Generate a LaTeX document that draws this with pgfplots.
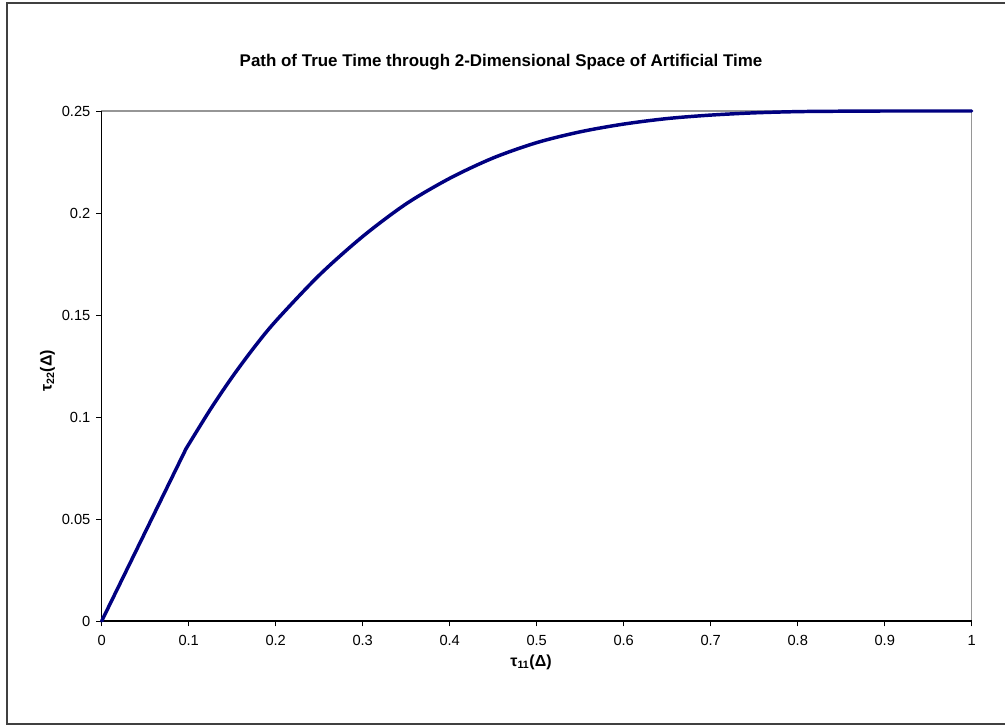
\documentclass[border=0pt]{standalone}
\usepackage{fontspec}
\setmainfont{Liberation Sans}
\usepackage{pgfplots}
\pgfplotsset{compat=1.18}
\definecolor{pathnavy}{RGB}{0,0,128}
\definecolor{framegray}{RGB}{150,150,150}

\begin{document}
\begin{tikzpicture}[x=0.75pt,y=-0.75pt]
% picture measured in pixels of the reference, y downwards
\useasboundingbox (0,0) rectangle (1005,726);
\draw[black!75, line width=0.9pt] (1008,3) -- (7,3) -- (7,724) -- (1008,724);

\node[font=\bfseries\fontsize{12.7}{15}\selectfont] at (501,62)
  {Path of True Time through 2-Dimensional Space of Artificial Time};

\begin{axis}[
    at={(76.275pt,-465.75pt)}, anchor=south west,
    scale only axis,
    width=652.5pt, height=382.5pt,
    xmin=0, xmax=1, ymin=0, ymax=0.25,
    xtick={0,0.1,0.2,0.3,0.4,0.5,0.6,0.7,0.8,0.9,1},
    xticklabels={0,0.1,0.2,0.3,0.4,0.5,0.6,0.7,0.8,0.9,1},
    ytick={0,0.05,0.1,0.15,0.2,0.25},
    yticklabels={0,0.05,0.1,0.15,0.2,0.25},
    scaled ticks=false,
    xtick pos=left, ytick pos=left,
    tick align=outside,
    major tick length=4pt,
    tick style={black, line width=0.6pt},
    axis line style={framegray, line width=0.8pt},
    tick label style={font=\fontsize{11}{13}\selectfont},
    xticklabel style={yshift=-3.5pt},
    yticklabel style={xshift=-1pt},
    clip=false,
]
\draw[black, line width=0.8pt] (rel axis cs:0,1) -- (rel axis cs:0,0) -- (rel axis cs:1,0);

\addplot[pathnavy, line width=2.6pt, line cap=round] coordinates {
    (0,0) (0.097,0.0845)};
\addplot[pathnavy, line width=2.6pt, line cap=round, line join=round, smooth] coordinates {
    (0.097,0.0845) (0.125,0.1038) (0.15,0.1196) (0.175,0.134) (0.2,0.147)
    (0.25,0.1695) (0.3,0.1885) (0.35,0.2045) (0.4,0.2170) (0.45,0.2270)
    (0.5,0.2345) (0.55,0.2398) (0.6,0.2436) (0.65,0.2463) (0.7,0.2480)
    (0.75,0.2491) (0.8,0.2497) (0.85,0.2499) (0.9,0.25) (1,0.25)};
\end{axis}

\node[font=\bfseries\fontsize{12}{14}\selectfont] at (531,662)
  {τ\textsubscript{11}(Δ)};
\node[font=\bfseries\fontsize{12}{14}\selectfont, rotate=90] at (47.5,371)
  {τ\textsubscript{22}(Δ)};
\end{tikzpicture}
\end{document}
